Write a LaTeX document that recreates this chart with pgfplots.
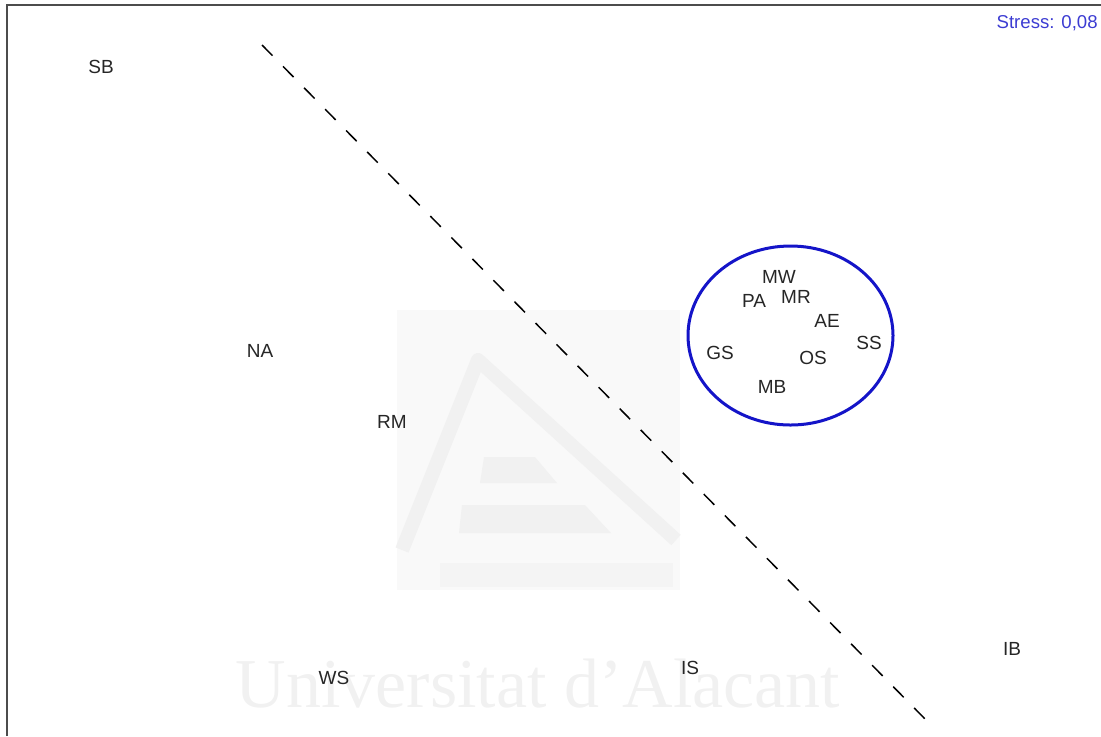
\documentclass[border=0pt]{standalone}
\usepackage{pgfplots}
\usepackage{pgfplotstable}
\usepackage{fontspec}
\pgfplotsset{compat=1.18}
\setmainfont{Liberation Sans}
\newfontfamily\serifwm{Liberation Serif}
\definecolor{stressblue}{RGB}{60,60,210}
\definecolor{ellblue}{RGB}{20,20,200}
\definecolor{wm}{RGB}{241,241,241}
\definecolor{wmbg}{RGB}{249,249,249}

% MDS configuration (pixel-like coordinates, y downwards)
\pgfplotstableread{
x    y    label
101  67   SB
260  351  NA
392  422  RM
334  678  WS
690  668  IS
1012 649  IB
779  277  MW
754  301  PA
796  297  MR
827  321  AE
869  343  SS
720  353  GS
813  358  OS
772  387  MB
}\mdsdata

\begin{document}
\begin{tikzpicture}
\begin{axis}[
    width=550.5pt, height=368pt, scale only axis,
    xmin=0, xmax=1101, ymin=0, ymax=736, y dir=reverse,
    hide axis, clip=false,
]
  % watermark
  \fill[wmbg] (axis cs:397,310) rectangle (axis cs:680,590);
  \draw[wm, line width=7pt, line join=round] (axis cs:402,550) -- (axis cs:478,360) -- (axis cs:676,540);
  \fill[wm] (axis cs:484,457) -- (axis cs:535,457) -- (axis cs:557,483) -- (axis cs:480,483) -- cycle;
  \fill[wm] (axis cs:462,505) -- (axis cs:585,505) -- (axis cs:611,533) -- (axis cs:459,533) -- cycle;
  \fill[wm!60!wmbg] (axis cs:440,563) rectangle (axis cs:673,587);
  \node[anchor=base, wm, font=\serifwm\fontsize{35}{40}\selectfont] at (axis cs:538,707) {Universitat d’Alacant};

  % frame
  \draw[black!70, line width=1pt] (axis cs:7,736) -- (axis cs:7,5) -- (axis cs:1101,5);

  % separating line
  \addplot[black, line width=0.75pt, dash pattern=on 7.5pt off 7.5pt] coordinates {(262,45) (928,722)};

  % group ellipse
  \draw[ellblue, line width=1.5pt] (axis cs:790.5,335.5) ellipse [x radius=51.25pt, y radius=44.75pt];

  % labels
  \addplot[only marks, mark=none, nodes near coords, point meta=explicit symbolic,
    every node near coord/.style={anchor=center, text=black!85, font=\fontsize{9.5}{11}\selectfont}]
    table[x=x, y=y, meta=label] {\mdsdata};

  \node[anchor=east, inner sep=0pt, text=stressblue, font=\fontsize{9.3}{11}\selectfont] at (axis cs:1098,23) {Stress: 0,08};
\end{axis}
\pgfresetboundingbox
\useasboundingbox (current axis.south west) rectangle (current axis.north east);
\end{tikzpicture}
\end{document}
